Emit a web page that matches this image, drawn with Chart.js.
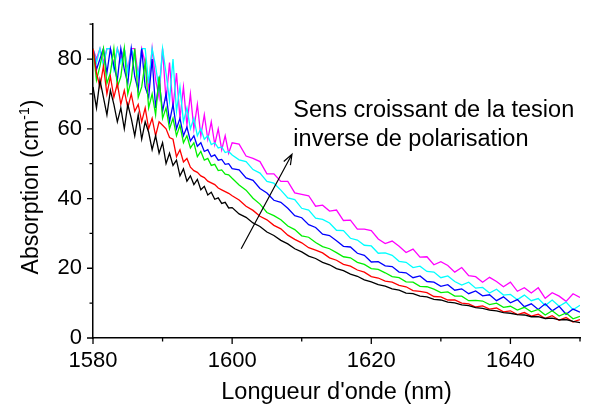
<!DOCTYPE html>
<html>
<head>
<meta charset="utf-8">
<script src="https://cdn.jsdelivr.net/npm/chart.js@4.4.1/dist/chart.umd.min.js"></script>
<style>
  html, body { margin: 0; padding: 0; background: #fff; }
  #wrap { width: 591px; height: 407px; }
</style>
</head>
<body>
<div id="wrap"><canvas id="chart" width="591" height="407"></canvas></div>
<script>
// wavelength (nm): every 0.5 nm up to 1600, then every nm
const wavelengths = [
  1580, 1580.5, 1581, 1581.5, 1582, 1582.5, 1583, 1583.5, 1584, 1584.5,
  1585, 1585.5, 1586, 1586.5, 1587, 1587.5, 1588, 1588.5, 1589, 1589.5,
  1590, 1590.5, 1591, 1591.5, 1592, 1592.5, 1593, 1593.5, 1594, 1594.5,
  1595, 1595.5, 1596, 1596.5, 1597, 1597.5, 1598, 1598.5, 1599, 1599.5,
  1600,
  1601, 1602, 1603, 1604, 1605, 1606, 1607, 1608, 1609, 1610,
  1611, 1612, 1613, 1614, 1615, 1616, 1617, 1618, 1619, 1620,
  1621, 1622, 1623, 1624, 1625, 1626, 1627, 1628, 1629, 1630,
  1631, 1632, 1633, 1634, 1635, 1636, 1637, 1638, 1639, 1640,
  1641, 1642, 1643, 1644, 1645, 1646, 1647, 1648, 1649, 1650
];

// absorption (cm-1), lowest reverse bias first
const absBlack = [
  72, 66, 74, 69, 64, 71, 67, 62, 66, 60,
  67, 63, 58, 64, 57, 62, 59, 54, 58, 53,
  56, 50, 53, 49.5, 51, 46.5, 48.5, 45, 46.5, 44,
  45.5, 42.5, 43.5, 41, 41.8, 39.8, 40.2, 38.6, 38.9, 37.3,
  37.4,
  35.6, 34.6, 33.0, 32.0, 30.4, 29.4, 28.0, 27.0, 25.6, 24.7,
  23.5, 22.8, 21.7, 21.0, 19.9, 19.3, 18.3, 17.7, 16.7, 16.1,
  15.3, 14.9, 14.1, 13.7, 12.9, 12.7, 12.0, 11.8, 11.1, 10.9,
  10.3, 10.1, 9.5, 9.3, 8.7, 8.5, 8.0, 7.8, 7.3, 7.1,
  6.7, 6.6, 6.1, 6.1, 5.6, 5.7, 5.2, 5.3, 4.8, 4.4
];
const absRed = [
  83, 76, 72, 78, 70, 75, 69, 73, 67, 71,
  66, 70, 65, 67, 62, 66, 60, 63, 58, 62,
  61, 60, 57.5, 57, 52, 54, 50.5, 51.5, 49, 48,
  47.5, 46.5, 46, 45, 44.5, 44, 43, 42.5, 42, 41.5,
  40.8,
  39.6, 37.8, 36.6, 34.9, 33.9, 32.3, 31.3, 29.5, 28.3, 27.3,
  25.9, 25.2, 24.4, 23.0, 22.3, 21.1, 20.6, 19.5, 18.9, 17.6,
  17.2, 16.3, 16.0, 15.1, 14.7, 13.6, 13.4, 13.0, 11.9, 11.8,
  10.9, 10.9, 10.0, 9.8, 8.9, 9.2, 8.3, 8.6, 7.5, 7.8,
  6.7, 7.3, 6.3, 6.8, 5.6, 6.4, 5.1, 5.9, 4.6, 5.3
];
const absGreen = [
  83, 74, 78, 83, 73, 76, 83, 72, 75, 83,
  70, 74, 83, 69, 72, 79, 66, 70, 64, 75,
  63, 66, 60, 63, 58, 61, 56, 58, 54.5, 56,
  52, 53.5, 51, 51.5, 49.5, 49.8, 48, 48.2, 47, 46.8,
  45.8,
  43.9, 42.4, 40.1, 38.4, 36.0, 35.1, 33.9, 32.1, 31.1, 29.3,
  28.9, 27.4, 26.2, 25.6, 24.5, 23.3, 23.0, 21.7, 21.1, 19.9,
  19.7, 18.7, 17.6, 17.3, 16.1, 16.0, 14.8, 14.7, 14.0, 13.0,
  13.2, 12.0, 12.0, 10.7, 10.8, 10.6, 9.6, 10.0, 8.8, 9.1,
  8.0, 8.8, 7.5, 8.2, 6.6, 7.8, 6.3, 7.2, 5.5, 6.2
];
const absBlue = [
  83, 77, 80, 83, 76, 83, 78, 74, 83, 77,
  73, 83, 75, 71, 83, 72, 69, 80, 66, 74,
  65, 70, 62, 67, 60, 63, 58, 60.5, 56.5, 58,
  55, 56, 53.5, 54, 52, 52.5, 51, 51.2, 49.8, 50,
  48.6,
  48.2, 45.9, 45.2, 42.9, 41.6, 39.5, 38.9, 37.2, 35.1, 34.5,
  32.5, 31.7, 29.8, 29.4, 27.9, 26.3, 26.1, 24.3, 23.7, 21.8,
  21.9, 20.7, 20.5, 18.9, 18.7, 17.3, 17.8, 16.2, 16.0, 14.8,
  15.3, 13.7, 14.1, 12.7, 13.5, 12.1, 12.4, 10.7, 11.8, 10.1,
  11.0, 9.0, 9.8, 8.2, 9.8, 7.8, 9.1, 6.8, 8.3, 7.4
];
const absCyan = [
  83, 79, 83, 78, 83, 83, 77, 83, 79, 83,
  76, 83, 80, 75, 83, 83, 73, 83, 78, 71,
  83, 76, 68, 80, 65, 72, 62, 66, 60, 63,
  58, 60, 57, 58, 55.5, 56, 54.5, 54.8, 53.2, 53.5,
  52.5,
  51.1, 50.6, 48.3, 47.3, 44.9, 44.4, 42.4, 40.2, 39.7, 37.2,
  36.7, 34.4, 34.0, 33.0, 30.9, 30.8, 28.6, 28.1, 26.6, 26.4,
  24.3, 24.4, 23.7, 22.0, 21.7, 20.2, 20.6, 19.1, 18.9, 17.3,
  17.8, 16.2, 15.2, 16.0, 14.3, 14.5, 12.9, 14.0, 12.3, 12.5,
  11.0, 12.3, 10.7, 11.3, 9.3, 10.9, 9.1, 10.3, 8.1, 9.4
];
const absMagenta = [
  83, 80, 83, 79, 83, 83, 78, 83, 80, 83,
  77, 83, 83, 75, 83, 79, 72, 83, 74, 69,
  83, 68, 79, 66, 76, 63, 72, 61, 70, 60,
  67, 58, 64, 57, 62, 55.5, 60, 54, 58, 53,
  56,
  55.6, 52.2, 51.5, 50.6, 47.1, 47.1, 44.9, 44.9, 41.6, 41.2,
  40.8, 37.8, 38.1, 36.4, 36.7, 33.7, 33.8, 31.2, 31.2, 30.8,
  28.4, 27.1, 27.8, 26.3, 24.5, 25.5, 23.2, 23.3, 21.0, 21.9,
  20.8, 18.9, 20.2, 17.9, 17.6, 16.0, 17.4, 16.2, 14.7, 16.0,
  13.4, 14.4, 12.9, 14.4, 11.4, 13.0, 12.0, 10.5, 12.7, 11.6
];

const seriesValues = [absBlack, absRed, absGreen, absBlue, absCyan, absMagenta];
const seriesColors = ['#000000', '#ff0000', '#00f000', '#0000ff', '#00ffff', '#ff00ff'];

// axis ticks
const xMajor = [1580, 1600, 1620, 1640];
const xMinor = [1590, 1610, 1630, 1650];
const yMajor = [0, 20, 40, 60, 80];
const yMinor = [10, 30, 50, 70, 90];

// annotation (text and arrow, in data units)
const noteLines = ['Sens croissant de la tesion', 'inverse de polarisation'];
const noteAt = { x: 1608.8, y: 63.3 };
const arrowFrom = { x: 1601.3, y: 25.6 };
const arrowTo = { x: 1608.6, y: 52.7 };

const FONT = '"Liberation Sans", Arial, sans-serif';

const datasets = seriesValues.map((vals, i) => ({
    data: vals.map((v, j) => ({ x: wavelengths[j], y: v })),
    borderColor: seriesColors[i],
    borderWidth: 1.3,
    pointRadius: 0,
    fill: false,
    tension: 0
}));

const decorations = {
    id: 'decorations',
    afterDraw(chart) {
        const ctx = chart.ctx;
        const xs = chart.scales.x;
        const ys = chart.scales.y;
        const area = chart.chartArea;

        ctx.save();
        ctx.strokeStyle = '#000';
        ctx.lineWidth = 1.3;
        ctx.beginPath();
        xMajor.forEach(v => {
            const px = xs.getPixelForValue(v);
            ctx.moveTo(px, area.bottom);
            ctx.lineTo(px, area.bottom + 6);
        });
        xMinor.forEach(v => {
            const px = xs.getPixelForValue(v);
            ctx.moveTo(px, area.bottom);
            ctx.lineTo(px, area.bottom + 3.5);
        });
        yMajor.forEach(v => {
            const py = ys.getPixelForValue(v);
            ctx.moveTo(area.left, py);
            ctx.lineTo(area.left - 6, py);
        });
        yMinor.forEach(v => {
            const py = ys.getPixelForValue(v);
            ctx.moveTo(area.left, py);
            ctx.lineTo(area.left - 3.5, py);
        });
        ctx.stroke();

        // x title
        ctx.fillStyle = '#000';
        ctx.font = '23.5px ' + FONT;
        ctx.textAlign = 'center';
        ctx.textBaseline = 'alphabetic';
        ctx.fillText("Longueur d'onde (nm)", (area.left + area.right) / 2, 399);

        // y title with superscript
        ctx.save();
        ctx.translate(38, 187);
        ctx.rotate(-Math.PI / 2);
        const a = 'Absorption (cm';
        const sup = '-1';
        const b = ')';
        ctx.font = '23px ' + FONT;
        const wa = ctx.measureText(a).width;
        const wb = ctx.measureText(b).width;
        ctx.font = '14px ' + FONT;
        const ws = ctx.measureText(sup).width;
        let cx = -(wa + ws + wb) / 2;
        ctx.textAlign = 'left';
        ctx.font = '23px ' + FONT;
        ctx.fillText(a, cx, 0);
        cx += wa;
        ctx.font = '14px ' + FONT;
        ctx.fillText(sup, cx, -9);
        cx += ws;
        ctx.font = '23px ' + FONT;
        ctx.fillText(b, cx, 0);
        ctx.restore();

        // annotation
        ctx.font = '23.5px ' + FONT;
        ctx.textAlign = 'left';
        const tx = xs.getPixelForValue(noteAt.x);
        const ty = ys.getPixelForValue(noteAt.y);
        noteLines.forEach((line, i) => ctx.fillText(line, tx, ty + i * 29));

        const x1 = xs.getPixelForValue(arrowFrom.x), y1 = ys.getPixelForValue(arrowFrom.y);
        const x2 = xs.getPixelForValue(arrowTo.x), y2 = ys.getPixelForValue(arrowTo.y);
        const ang = Math.atan2(y2 - y1, x2 - x1);
        ctx.lineWidth = 1.2;
        ctx.beginPath();
        ctx.moveTo(x1, y1);
        ctx.lineTo(x2, y2);
        ctx.moveTo(x2 - 11 * Math.cos(ang - 0.35), y2 - 11 * Math.sin(ang - 0.35));
        ctx.lineTo(x2, y2);
        ctx.lineTo(x2 - 11 * Math.cos(ang + 0.35), y2 - 11 * Math.sin(ang + 0.35));
        ctx.stroke();
        ctx.restore();
    }
};

new Chart(document.getElementById('chart'), {
    type: 'line',
    data: { datasets },
    plugins: [decorations],
    options: {
        responsive: false,
        animation: false,
        layout: { padding: { top: 15, right: 11, left: 0, bottom: 0 } },
        plugins: {
            legend: { display: false },
            tooltip: { enabled: false }
        },
        scales: {
            x: {
                type: 'linear',
                min: 1580,
                max: 1650,
                grid: { display: false, drawTicks: false, tickLength: 0 },
                border: { display: true, color: '#000', width: 1.5 },
                afterBuildTicks: s => { s.ticks = xMajor.map(v => ({ value: v })); },
                ticks: {
                    autoSkip: false,
                    maxRotation: 0,
                    padding: 10,
                    color: '#000',
                    font: { family: FONT, size: 22 },
                    callback: v => String(v)
                },
                afterFit: s => { s.height = 69; }
            },
            y: {
                min: 0,
                max: 90,
                grid: { display: false, drawTicks: false, tickLength: 0 },
                border: { display: true, color: '#000', width: 1.5 },
                afterBuildTicks: s => { s.ticks = yMajor.map(v => ({ value: v })); },
                ticks: {
                    autoSkip: false,
                    padding: 11,
                    color: '#000',
                    font: { family: FONT, size: 22 },
                    callback: v => String(v)
                },
                afterFit: s => { s.width = 93; }
            }
        }
    }
});
</script>
</body>
</html>
